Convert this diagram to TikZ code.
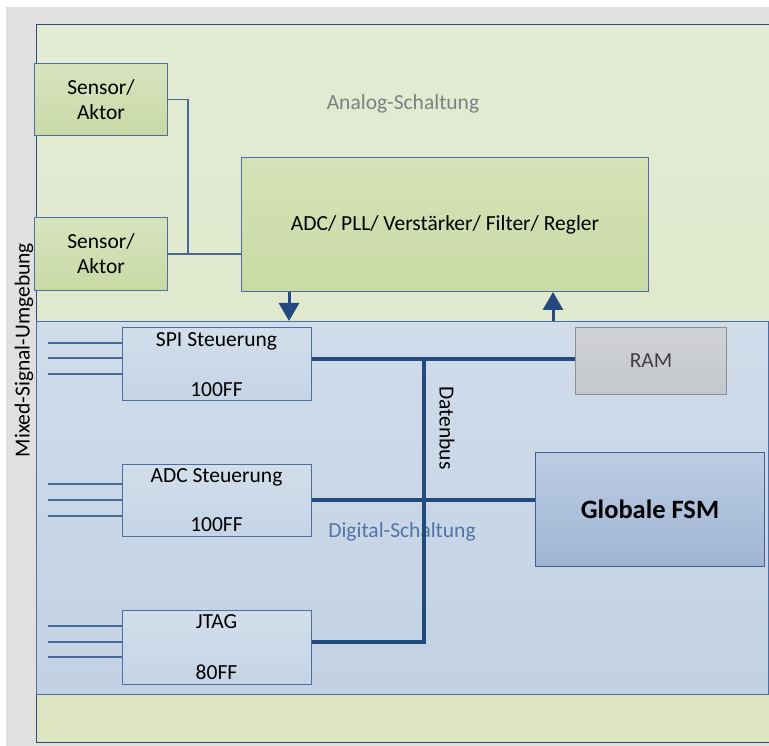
\documentclass[tikz,border=0pt]{standalone}
\usepackage{fontspec}
\setmainfont{Carlito}
\usetikzlibrary{arrows.meta}
\definecolor{bggray}{HTML}{E0E0E0}
\definecolor{greenTop}{HTML}{E3EBD5}
\definecolor{greenBot}{HTML}{DCE4C0}
\definecolor{bordernavy}{HTML}{2A4C80}
\definecolor{sensorTop}{HTML}{D8E4BF}
\definecolor{sensorBot}{HTML}{C8D9A5}
\definecolor{adcTop}{HTML}{D6E2B8}
\definecolor{adcBot}{HTML}{C9DAA5}
\definecolor{blueTop}{HTML}{D0DCEA}
\definecolor{blueBot}{HTML}{C2D1E3}
\definecolor{boxTop}{HTML}{D2DEEA}
\definecolor{boxBot}{HTML}{C5D4E6}
\definecolor{boxBorder}{HTML}{4A6FA0}
\definecolor{ramTop}{HTML}{D0D2D6}
\definecolor{ramBot}{HTML}{C4C7CB}
\definecolor{ramBorder}{HTML}{8E8E8E}
\definecolor{ramText}{HTML}{404040}
\definecolor{fsmTop}{HTML}{BCCDE3}
\definecolor{fsmBot}{HTML}{9FB5D4}
\definecolor{fsmBorder}{HTML}{3D6196}
\definecolor{busblue}{HTML}{24497F}
\definecolor{thinblue}{HTML}{46699A}
\definecolor{digText}{HTML}{5274A6}
\definecolor{anaText}{HTML}{7F7F7F}
\tikzset{
  txt/.style={font=\fontsize{21.5}{25}\selectfont, inner sep=0pt, align=center},
  greenbox/.style={draw=boxBorder, line width=1pt, top color=sensorTop, bottom color=sensorBot, inner sep=0pt, anchor=north west, txt},
  adcbox/.style={draw=boxBorder, line width=1pt, top color=adcTop, bottom color=adcBot, inner sep=0pt, anchor=north west, txt},
  ctrlbox/.style={draw=boxBorder, line width=1pt, top color=boxTop, bottom color=boxBot, inner sep=0pt, anchor=north west, minimum width=189pt},
  rambox/.style={draw=ramBorder, line width=1pt, top color=ramTop, bottom color=ramBot, inner sep=0pt, anchor=north west, txt, text=ramText},
  fsmbox/.style={draw=fsmBorder, line width=1pt, top color=fsmTop, bottom color=fsmBot, inner sep=0pt, anchor=north west, font=\fontsize{26.5}{30}\selectfont\bfseries},
  bus/.style={draw=busblue, line width=3.5pt},
  wire/.style={draw=thinblue, line width=1.2pt},
  arr/.style={draw=busblue, line width=3pt, -{Triangle[width=20pt,length=18pt]}},
}
\begin{document}
\begin{tikzpicture}[x=1pt,y=-1pt]
\useasboundingbox (0,0) rectangle (769,746);
% backgrounds
\fill[bggray] (6,7) rectangle (769,746);
\shade[top color=greenTop, bottom color=greenBot] (36,25) rectangle (769,742);
\draw[bordernavy, line width=1pt] (769,25) -- (36,25) -- (36,742) -- (769,742);
\node[draw=boxBorder, line width=1pt, top color=blueTop, bottom color=blueBot, anchor=north west, minimum width=732pt, minimum height=373pt, inner sep=0pt] (dig) at (36,321) {};

% region labels
\node[txt, text=anaText, anchor=base] (analog) at (403,110) {Analog-Schaltung};
\node[txt, text=digText, anchor=base] (digital) at (402,537) {Digital-Schaltung};
\node[txt, rotate=90] (mixed) at (24,350) {Mixed-Signal-Umgebung};

% analog blocks
\node[greenbox, minimum width=133pt, minimum height=72pt] (s1) at (34,63) {Sensor/\\Aktor};
\node[greenbox, minimum width=133pt, minimum height=73pt] (s2) at (34,217) {Sensor/\\Aktor};
\node[adcbox, minimum width=407pt, minimum height=134pt] (adc) at (241,157) {ADC/ PLL/ Verstärker/ Filter/ Regler};

\coordinate (j) at (188,253);
\draw[wire] (s1.east) -| (j);
\draw[wire] (s2.east) -- (s2.east -| adc.west);

% arrows between analog and digital
\coordinate (ax1) at (289,0);
\coordinate (ax2) at (553,0);
\draw[arr] (adc.south -| ax1) -- (dig.north -| ax1);
\draw[arr] (dig.north -| ax2) -- (adc.south -| ax2);

% digital blocks
\node[ctrlbox, minimum height=73pt] (spi) at (122,327) {};
\node[ctrlbox, minimum height=72pt] (adcc) at (122,464) {};
\node[ctrlbox, minimum height=74pt] (jtag) at (122,610) {};
\node[txt, anchor=base] (spit) at (216.5,346) {SPI Steuerung};
\node[txt, anchor=base] (spib) at (216.5,396) {100FF};
\node[txt, anchor=base] (adct) at (216.5,482) {ADC Steuerung};
\node[txt, anchor=base] (adcb) at (216.5,531) {100FF};
\node[txt, anchor=base] (jtagt) at (216.5,628) {JTAG};
\node[txt, anchor=base] (jtagb) at (216.5,679) {80FF};

\node[rambox, minimum width=151pt, minimum height=67pt] (ram) at (575,327) {RAM};
\node[fsmbox, minimum width=229pt, minimum height=114pt] (fsm) at (535,452) {Globale FSM};

% input wires
\foreach \yy in {343,358,374}{\draw[wire] (48,\yy) -- (spi.west |- 48,\yy);}
\foreach \yy in {484,500,516}{\draw[wire] (48,\yy) -- (adcc.west |- 48,\yy);}
\foreach \yy in {626,642,657}{\draw[wire] (48,\yy) -- (jtag.west |- 48,\yy);}

% data bus
\coordinate (b1) at (424,359);
\coordinate (b3) at (424,642);
\draw[bus] (spi.east |- b1) -- (ram.west |- b1);
\draw[bus] (b1) -- (b3) -- (jtag.east |- b3);
\draw[bus] (adcc.east |- 0,500) -- (fsm.west |- 0,500);
\node[txt, rotate=-90] (datenbus) at (447,428) {Datenbus};
\end{tikzpicture}
\end{document}
